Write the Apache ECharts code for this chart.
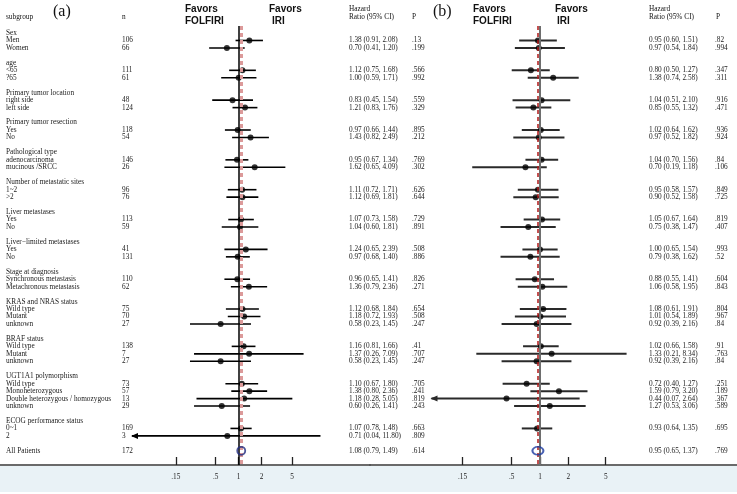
<!DOCTYPE html>
<html><head><meta charset="utf-8">
<script src="https://cdn.jsdelivr.net/npm/echarts@6/dist/echarts.min.js"></script>
<style>html,body{margin:0;padding:0;background:#fff}#c{width:737px;height:494px}</style>
</head><body><div id="c"></div>
<script>
const _ = null;
const rowLabels = [
'Sex','Men','Women','',
'age','<65','?65','',
'Primary tumor location','right side','left side','',
'Primary tumor resection','Yes','No','',
'Pathological type','adenocarcinoma','mucinous /SRCC','',
'Number of metastatic sites','1~2','>2','',
'Liver metastases','Yes','No','',
'Liver\u2212limited metastases','Yes','No','',
'Stage at diagnosis','Synchronous metastasis','Metachronous metastasis','',
'KRAS and NRAS status','Wild type','Mutant','unknown','',
'BRAF status','Wild type','Mutant','unknown','',
'UGT1A1 polymorphism','Wild type','Monoheterozygous','Double heterozygous / homozygous','unknown','',
'ECOG performance status','0~1','2','',
'All Patients'];
const nValues = [_,106,66,_, _,111,61,_, _,48,124,_, _,118,54,_, _,146,26,_, _,96,76,_, _,113,59,_, _,41,131,_, _,110,62,_, _,75,70,27,_, _,138,7,27,_, _,73,57,13,29,_, _,169,3,_, 172];

const hrA = [_,1.38,0.70,_, _,1.12,1.00,_, _,0.83,1.21,_, _,0.97,1.43,_, _,0.95,1.62,_, _,1.11,1.12,_, _,1.07,1.04,_, _,1.24,0.97,_, _,0.96,1.36,_, _,1.12,1.18,0.58,_, _,1.16,1.37,0.58,_, _,1.10,1.38,1.18,0.60,_, _,1.07,0.71,_, 1.08];
const loA = [_,0.91,0.41,_, _,0.75,0.59,_, _,0.45,0.83,_, _,0.66,0.82,_, _,0.67,0.65,_, _,0.72,0.69,_, _,0.73,0.60,_, _,0.65,0.68,_, _,0.65,0.79,_, _,0.68,0.72,0.23,_, _,0.81,0.26,0.23,_, _,0.67,0.80,0.28,0.26,_, _,0.78,0.04,_, 0.79];
const hiA = [_,2.08,1.20,_, _,1.68,1.71,_, _,1.54,1.76,_, _,1.44,2.49,_, _,1.34,4.09,_, _,1.71,1.81,_, _,1.58,1.81,_, _,2.39,1.40,_, _,1.41,2.36,_, _,1.84,1.93,1.45,_, _,1.66,7.09,1.45,_, _,1.80,2.36,5.05,1.41,_, _,1.48,11.80,_, 1.49];
const pA = [_,'.13','.199',_, _,'.566','.992',_, _,'.559','.329',_, _,'.895','.212',_, _,'.769','.302',_, _,'.626','.644',_, _,'.729','.891',_, _,'.508','.886',_, _,'.826','.271',_, _,'.654','.508','.247',_, _,'.41','.707','.247',_, _,'.705','.241','.819','.243',_, _,'.663','.809',_, '.614'];

const hrB = [_,0.95,0.97,_, _,0.80,1.38,_, _,1.04,0.85,_, _,1.02,0.97,_, _,1.04,0.70,_, _,0.95,0.90,_, _,1.05,0.75,_, _,1.00,0.79,_, _,0.88,1.06,_, _,1.08,1.01,0.92,_, _,1.02,1.33,0.92,_, _,0.72,1.59,0.44,1.27,_, _,0.93,_,_, 0.95];
const loB = [_,0.60,0.54,_, _,0.50,0.74,_, _,0.51,0.55,_, _,0.64,0.52,_, _,0.70,0.19,_, _,0.58,0.52,_, _,0.67,0.38,_, _,0.65,0.38,_, _,0.55,0.58,_, _,0.61,0.54,0.39,_, _,0.66,0.21,0.39,_, _,0.40,0.79,0.07,0.53,_, _,0.64,_,_, 0.65];
const hiB = [_,1.51,1.84,_, _,1.27,2.58,_, _,2.10,1.32,_, _,1.62,1.82,_, _,1.56,1.18,_, _,1.57,1.58,_, _,1.64,1.47,_, _,1.54,1.62,_, _,1.41,1.95,_, _,1.91,1.89,2.16,_, _,1.58,8.34,2.16,_, _,1.27,3.20,2.64,3.06,_, _,1.35,_,_, 1.37];
const pB = [_,'.82','.994',_, _,'.347','.311',_, _,'.916','.471',_, _,'.936','.924',_, _,'.84','.106',_, _,'.849','.725',_, _,'.819','.407',_, _,'.993','.52',_, _,'.604','.843',_, _,'.804','.967','.84',_, _,'.91','.763','.84',_, _,'.251','.189','.367','.589',_, _,'.695',_,_, '.769'];

const tickValues = [0.15, 0.5, 1, 2, 5];
const tickLabels = ['.15', '.5', '1', '2', '5'];

const serif = "'Liberation Serif','Times New Roman',serif";
const sans = "'Liberation Sans',Arial,sans-serif";
const overallIndex = rowLabels.indexOf('All Patients');
const arrowBelow = tickValues[0];
const rowIdx = rowLabels.map((d, i) => i);
const tickLogs = tickValues.map(v => Math.log10(v));
const yMin = -0.94, yMax = 57.9;

const fmtHR = (h, l, u) => rowLabels.map((d, i) => h[i] == null ? '' : `${h[i].toFixed(2)} (${l[i].toFixed(2)}, ${u[i].toFixed(2)})`);
const hrTextA = fmtHR(hrA, loA, hiA);
const hrTextB = fmtHR(hrB, loB, hiB);

function textAxis(gridIndex, margin, labels) {
  return {
    type: 'value', gridIndex, inverse: true, min: yMin, max: yMax, position: 'left',
    axisLine: { show: false, onZero: false }, axisTick: { show: false }, splitLine: { show: false },
    axisLabel: {
      inside: true, margin, align: 'left', verticalAlign: 'middle', customValues: rowIdx,
      formatter: v => { const t = labels[Math.round(v)]; return t == null ? '' : String(t); },
      fontFamily: serif, fontSize: 7.3, color: '#1a1a1a'
    }
  };
}
function xAxisFor(gridIndex, min, max) {
  return {
    type: 'value', gridIndex, min, max, position: 'bottom',
    axisLine: { show: true, onZero: false, lineStyle: { color: '#3a3a3a', width: 1.5 } },
    axisTick: { show: true, inside: true, length: 8, customValues: tickLogs, lineStyle: { color: '#222', width: 1.3 } },
    axisLabel: {
      customValues: tickLogs, margin: 9, fontFamily: serif, fontSize: 7.3, color: '#222',
      formatter: v => { const i = tickLogs.findIndex(t => Math.abs(t - v) < 1e-6); return i >= 0 ? tickLabels[i] : ''; }
    },
    splitLine: { show: false }
  };
}
function ciSeries(h, l, u, axisIdx, color, width) {
  const data = [];
  h.forEach((v, i) => {
    if (v != null && i !== overallIndex) data.push([Math.log10(l[i]), Math.log10(u[i]), i, l[i] < arrowBelow ? 1 : 0]);
  });
  return {
    type: 'custom', xAxisIndex: axisIdx.x, yAxisIndex: axisIdx.y, data, clip: false, silent: true, z: 3,
    encode: { x: [0, 1], y: 2 },
    renderItem(params, api) {
      const a = api.coord([api.value(0), api.value(2)]);
      const b = api.coord([api.value(1), api.value(2)]);
      const children = [{ type: 'line', shape: { x1: a[0], y1: a[1], x2: b[0], y2: b[1] }, style: { stroke: color, lineWidth: width } }];
      if (api.value(3)) children.push({ type: 'polygon', shape: { points: [[a[0] - 1, a[1]], [a[0] + 6, a[1] - 3], [a[0] + 6, a[1] + 3]] }, style: { fill: color } });
      return { type: 'group', children };
    }
  };
}
function pointSeries(h, axisIdx, color, refLines) {
  const data = [];
  h.forEach((v, i) => { if (v != null && i !== overallIndex) data.push([Math.log10(v), i]); });
  return {
    type: 'scatter', xAxisIndex: axisIdx.x, yAxisIndex: axisIdx.y, data, symbol: 'circle', symbolSize: 6,
    itemStyle: { color }, silent: true, z: 4,
    markLine: { silent: true, symbol: 'none', label: { show: false }, animation: false, data: refLines }
  };
}
function overallSeries(h, axisIdx, size, color) {
  return {
    type: 'scatter', xAxisIndex: axisIdx.x, yAxisIndex: axisIdx.y, symbol: 'circle', symbolSize: size,
    data: [[Math.log10(h[overallIndex]), overallIndex]], silent: true, z: 5,
    itemStyle: { color: 'rgba(0,0,0,0)', borderColor: color, borderWidth: 1.8 }
  };
}
function txt(text, x, y, font, extra) {
  return Object.assign({ type: 'text', x, y, style: { text, font, fill: '#111', align: 'left', verticalAlign: 'middle', textAlign: 'left', textVerticalAlign: 'middle' } }, extra || {});
}
const favFont = `bold 10px ${sans}`;
const smallFont = `7.3px ${serif}`;

const chart = echarts.init(document.getElementById('c'), null, { renderer: 'canvas' });
chart.setOption({
  animation: false,
  backgroundColor: '#fff',
  grid: [
    { left: 0, top: 26, width: 370, height: 439 },
    { left: 370, top: 26, width: 367, height: 439 }
  ],
  xAxis: [xAxisFor(0, -3.128, 1.721), xAxisFor(1, -1.809, 2.096)],
  yAxis: [
    textAxis(0, 6, rowLabels),
    textAxis(0, 122, nValues),
    textAxis(0, 349, hrTextA),
    textAxis(0, 412, pA),
    textAxis(1, 279, hrTextB),
    textAxis(1, 345, pB)
  ],
  graphic: [
    { type: 'rect', shape: { x: 0, y: 466, width: 737, height: 26 }, style: { fill: '#e9f2f6' }, z: -10 },
    txt('(a)', 53, 12, `16px ${serif}`),
    txt('subgroup', 6, 17, smallFont),
    txt('n', 122, 17, smallFont),
    txt('Favors', 185, 9, favFont),
    txt('FOLFIRI', 185, 21, favFont),
    txt('Favors', 269, 9, favFont),
    txt('IRI', 272, 21, favFont),
    txt('Hazard', 349, 9, smallFont),
    txt('Ratio (95% CI)', 349, 17.5, smallFont),
    txt('P', 412, 17.5, smallFont),
    txt('(b)', 433, 12, `16px ${serif}`),
    txt('Favors', 473, 9, favFont),
    txt('FOLFIRI', 473, 21, favFont),
    txt('Favors', 555, 9, favFont),
    txt('IRI', 557, 21, favFont),
    txt('Hazard', 649, 9, smallFont),
    txt('Ratio (95% CI)', 649, 17.5, smallFont),
    txt('P', 716, 17.5, smallFont)
  ],
  series: [
    pointSeries(hrA, { x: 0, y: 0 }, '#000', [
      { xAxis: 0, lineStyle: { color: '#000', width: 1.5, type: 'solid' } },
      { xAxis: Math.log10(hrA[overallIndex]), lineStyle: { color: '#dc9a9a', width: 3, type: [4, 3] } }
    ]),
    ciSeries(hrA, loA, hiA, { x: 0, y: 0 }, '#000', 1.6),
    overallSeries(hrA, { x: 0, y: 0 }, 8, '#1f2a80'),
    pointSeries(hrB, { x: 1, y: 4 }, '#000', [
      { xAxis: 0, lineStyle: { color: '#6e6e6e', width: 2, type: 'solid' } },
      { xAxis: Math.log10(hrB[overallIndex]), lineStyle: { color: '#b01818', width: 1.5, type: [4, 3] } }
    ]),
    ciSeries(hrB, loB, hiB, { x: 1, y: 4 }, '#2a2a2a', 2),
    overallSeries(hrB, { x: 1, y: 4 }, [11, 8], '#1a3aa0')
  ]
});
</script></body></html>
